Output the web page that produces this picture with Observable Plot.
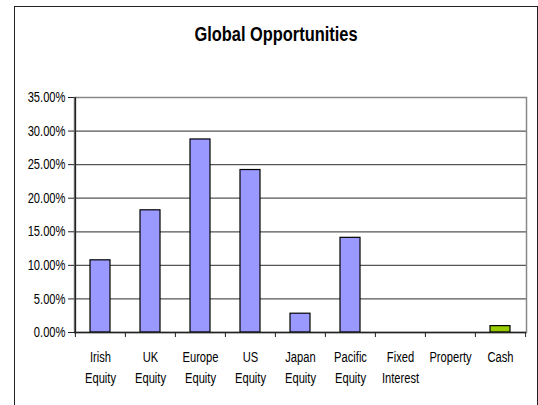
<!DOCTYPE html>
<html><head><meta charset="utf-8">
<script src="https://cdn.jsdelivr.net/npm/d3@7"></script>
<script src="https://cdn.jsdelivr.net/npm/@observablehq/plot@0.6"></script>
<style>
html,body{margin:0;padding:0;background:#fff;overflow:hidden;}
#wrap{position:relative;width:538px;height:405px;}
#border{position:absolute;left:14px;top:6px;right:0;bottom:-10px;border:1.5px solid #222;border-bottom:none;pointer-events:none;}
#title{position:absolute;left:14px;width:524px;top:24px;text-align:center;font:bold 20px/20px "Liberation Sans",Arial,sans-serif;color:#000;transform:scaleX(0.82);transform-origin:center;}
#chart{position:absolute;left:0;top:0;}
</style></head><body>
<div id="wrap"><div id="chart"></div><div id="title"></div><div id="border"></div></div>
<script>
const title = "Global Opportunities";
const categories = ["Irish Equity","UK Equity","Europe Equity","US Equity","Japan Equity","Pacific Equity","Fixed Interest","Property","Cash"];
const values = [0.1075, 0.182, 0.2875, 0.242, 0.028, 0.141, 0, 0, 0.0095];
const yTicks = [0, 0.05, 0.10, 0.15, 0.20, 0.25, 0.30, 0.35];

const data = categories.map((c, i) => ({category: c, value: values[i]}));
const font = '"Liberation Sans",Arial,sans-serif';
const half = 25.1; // half a band step, in px

document.getElementById("title").textContent = title;

const chart = Plot.plot({
  width: 538, height: 405,
  marginLeft: 74, marginRight: 12, marginTop: 97, marginBottom: 73,
  style: {fontFamily: font, fontSize: "14.5px", color: "#000", background: "transparent"},
  x: {domain: categories, paddingInner: 0.6, paddingOuter: 0.3, axis: null},
  y: {domain: [0, 0.35], axis: null},
  marks: [
    Plot.ruleY(yTicks.slice(1, -1), {stroke: "#555", strokeWidth: 1.3}),
    Plot.frame({stroke: "#888", strokeWidth: 1.5}),
    Plot.barY(data, {x: "category", y: "value",
      fill: d => d.category === "Cash" ? "#99CC00" : "#9999FF",
      stroke: "#000", strokeWidth: 1.2}),
    Plot.ruleY([0], {stroke: "#222", strokeWidth: 1.5}),
    Plot.ruleX([categories[0]], {x: d => d, y1: 0, y2: 0.35, dx: -half, stroke: "#222", strokeWidth: 1.5}),
    Plot.ruleX(categories, {x: d => d, y1: 0, y2: -0.0075, dx: -half, stroke: "#222"}),
    Plot.ruleX([categories[categories.length - 1]], {x: d => d, y1: 0, y2: -0.0075, dx: half, stroke: "#222"}),
    Plot.axisY({ticks: yTicks, tickFormat: d3.format(".2%"), tickSize: 6, tickPadding: 3,
      stroke: "#222", label: null, fontSize: 14.5}),
    Plot.text(data, {x: "category", y: () => 0, text: d => d.category.replace(" ", "\n"),
      lineAnchor: "top", dy: 14, lineHeight: 1.47, fontSize: 14.5, fill: "#000"})
  ]
});
// condense text horizontally (Arial-narrow look of the original)
chart.querySelectorAll("text").forEach(t => {
  const tr = t.getAttribute("transform");
  if (tr) {
    t.setAttribute("transform", tr + " scale(0.77,1)");
  } else {
    const x = +(t.getAttribute("x") || 0), y = +(t.getAttribute("y") || 0);
    t.setAttribute("x", 0); t.setAttribute("y", 0);
    t.setAttribute("transform", `translate(${x},${y}) scale(0.77,1)`);
  }
});
document.getElementById("chart").appendChild(chart);
</script>
</body></html>
